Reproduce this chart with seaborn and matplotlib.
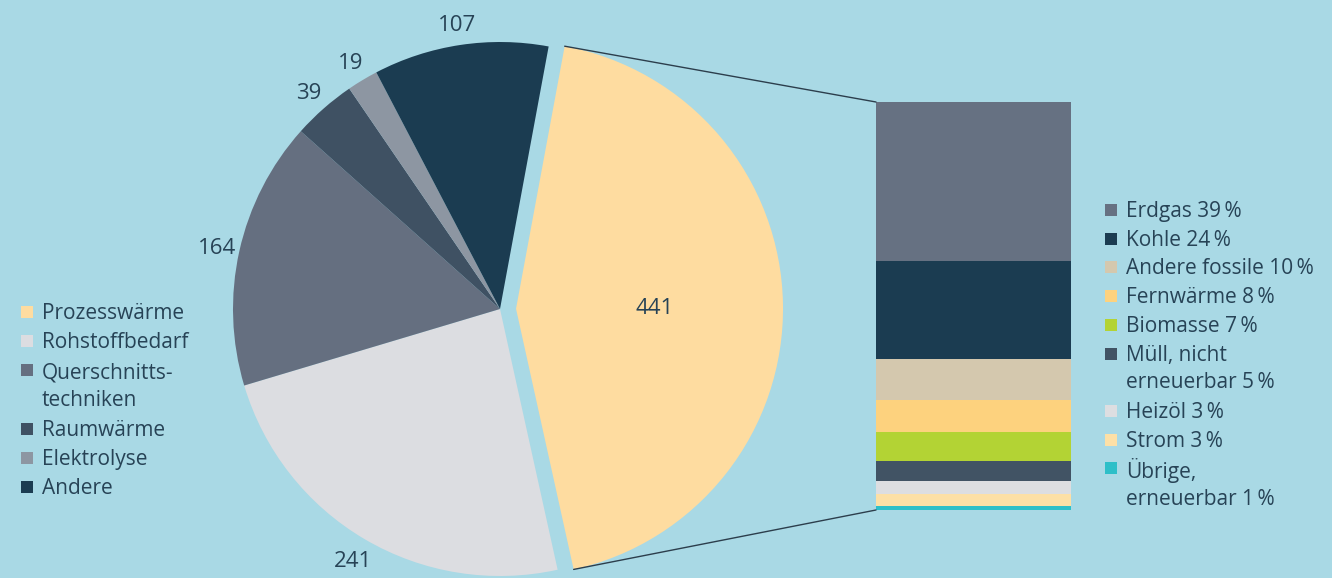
import numpy as np
import pandas as pd
import matplotlib
matplotlib.use("Agg")
import matplotlib.pyplot as plt
from matplotlib.patches import ConnectionPatch, Rectangle
import seaborn as sns

# pie: Endenergiebedarf nach Anwendung
pie_labels = ["Prozesswärme", "Rohstoffbedarf", "Querschnitts-\ntechniken",
              "Raumwärme", "Elektrolyse", "Andere"]
pie_values = [441, 241, 164, 39, 19, 107]
pie_colors = ["#fedca0", "#dcdde1", "#656f80", "#3f5163", "#8d96a2", "#1b3c51"]

# stacked bar: Energieträger der Prozesswärme
bar_labels = ["Erdgas 39\u2009%", "Kohle 24\u2009%", "Andere fossile 10\u2009%",
              "Fernwärme 8\u2009%", "Biomasse 7\u2009%", "Müll, nicht\nerneuerbar 5\u2009%",
              "Heizöl 3\u2009%", "Strom 3\u2009%", "Übrige,\nerneuerbar 1\u2009%"]
bar_values = [39, 24, 10, 8, 7, 5, 3, 3, 1]
bar_colors = ["#667182", "#1b3c51", "#d4c8ae", "#fdd27e", "#b3d334",
              "#415364", "#dddee1", "#fde0a6", "#2ebfc8"]

sns.set_style("white")
plt.rcParams["font.family"] = ["Open Sans", "DejaVu Sans"]
txt_color = "#274356"
bg = "#a9d9e5"

W, H = 1332, 578
fig = plt.figure(figsize=(W / 100, H / 100), dpi=100)
fig.patch.set_facecolor(bg)

# pie axes, placed so the pie sits where it is in the original
cx, cy, r = 500, 309, 267
half = 1.25 * r
ax = fig.add_axes([(cx - half) / W, (H - cy - half) / H, 2 * half / W, 2 * half / H])
explode = [0.06, 0, 0, 0, 0, 0]
wedges, _ = ax.pie(pie_values, colors=pie_colors, startangle=79.5, counterclock=False,
                   explode=explode, wedgeprops=dict(linewidth=0))
ax.set_xlim(-1.25, 1.25)
ax.set_ylim(-1.25, 1.25)
ax.set_aspect("equal")

for i, w in enumerate(wedges):
    mid = np.deg2rad((w.theta1 + w.theta2) / 2)
    x0, y0 = w.center
    d = 0.52 if i == 0 else 1.085
    ax.text(x0 + d * np.cos(mid), y0 + d * np.sin(mid), str(pie_values[i]),
            ha="center", va="center_baseline", fontsize=16, color=txt_color)

# stacked bar with seaborn
axb = fig.add_axes([876 / W, (H - 510) / H, 195 / W, 408 / H])
tops = np.cumsum(bar_values[::-1])[::-1]
for lab, val, top, col in zip(bar_labels, bar_values, tops, bar_colors):
    sns.barplot(x=["Prozesswärme"], y=[val], bottom=[top - val], color=col,
                saturation=1, width=1, errorbar=None, linewidth=0, ax=axb)
axb.set_xlim(-0.5, 0.5)
axb.set_ylim(0, 100)
axb.axis("off")

# connector lines between exploded wedge and bar
pw = wedges[0]
x0, y0 = pw.center
for ang, yb in [(pw.theta2, 100), (pw.theta1, 0)]:
    a = np.deg2rad(ang)
    con = ConnectionPatch(xyA=(x0 + np.cos(a), y0 + np.sin(a)), coordsA=ax.transData,
                          xyB=(-0.5, yb), coordsB=axb.transData,
                          color="#2c3e4c", linewidth=1)
    fig.add_artist(con)


def draw_legend(labels, colors, x_box, x_text, y_first, step):
    row = 0
    for lab, col in zip(labels, colors):
        n = lab.count("\n") + 1
        yb = y_first + row * step
        yt = y_first + (row + (n - 1) / 2) * step + 1.5
        fig.add_artist(Rectangle(((x_box) / W, (H - yb - 6) / H), 12 / W, 12 / H,
                                 transform=fig.transFigure, color=col, linewidth=0))
        fig.text(x_text / W, (H - yt) / H, lab, ha="left", va="center",
                 fontsize=15, color=txt_color, linespacing=1.38)
        row += n


draw_legend(pie_labels, pie_colors, 21, 42, 312, 29.2)
draw_legend(bar_labels, bar_colors, 1105, 1126, 210, 28.7)

fig.savefig("out.png", dpi=100, facecolor=bg)
